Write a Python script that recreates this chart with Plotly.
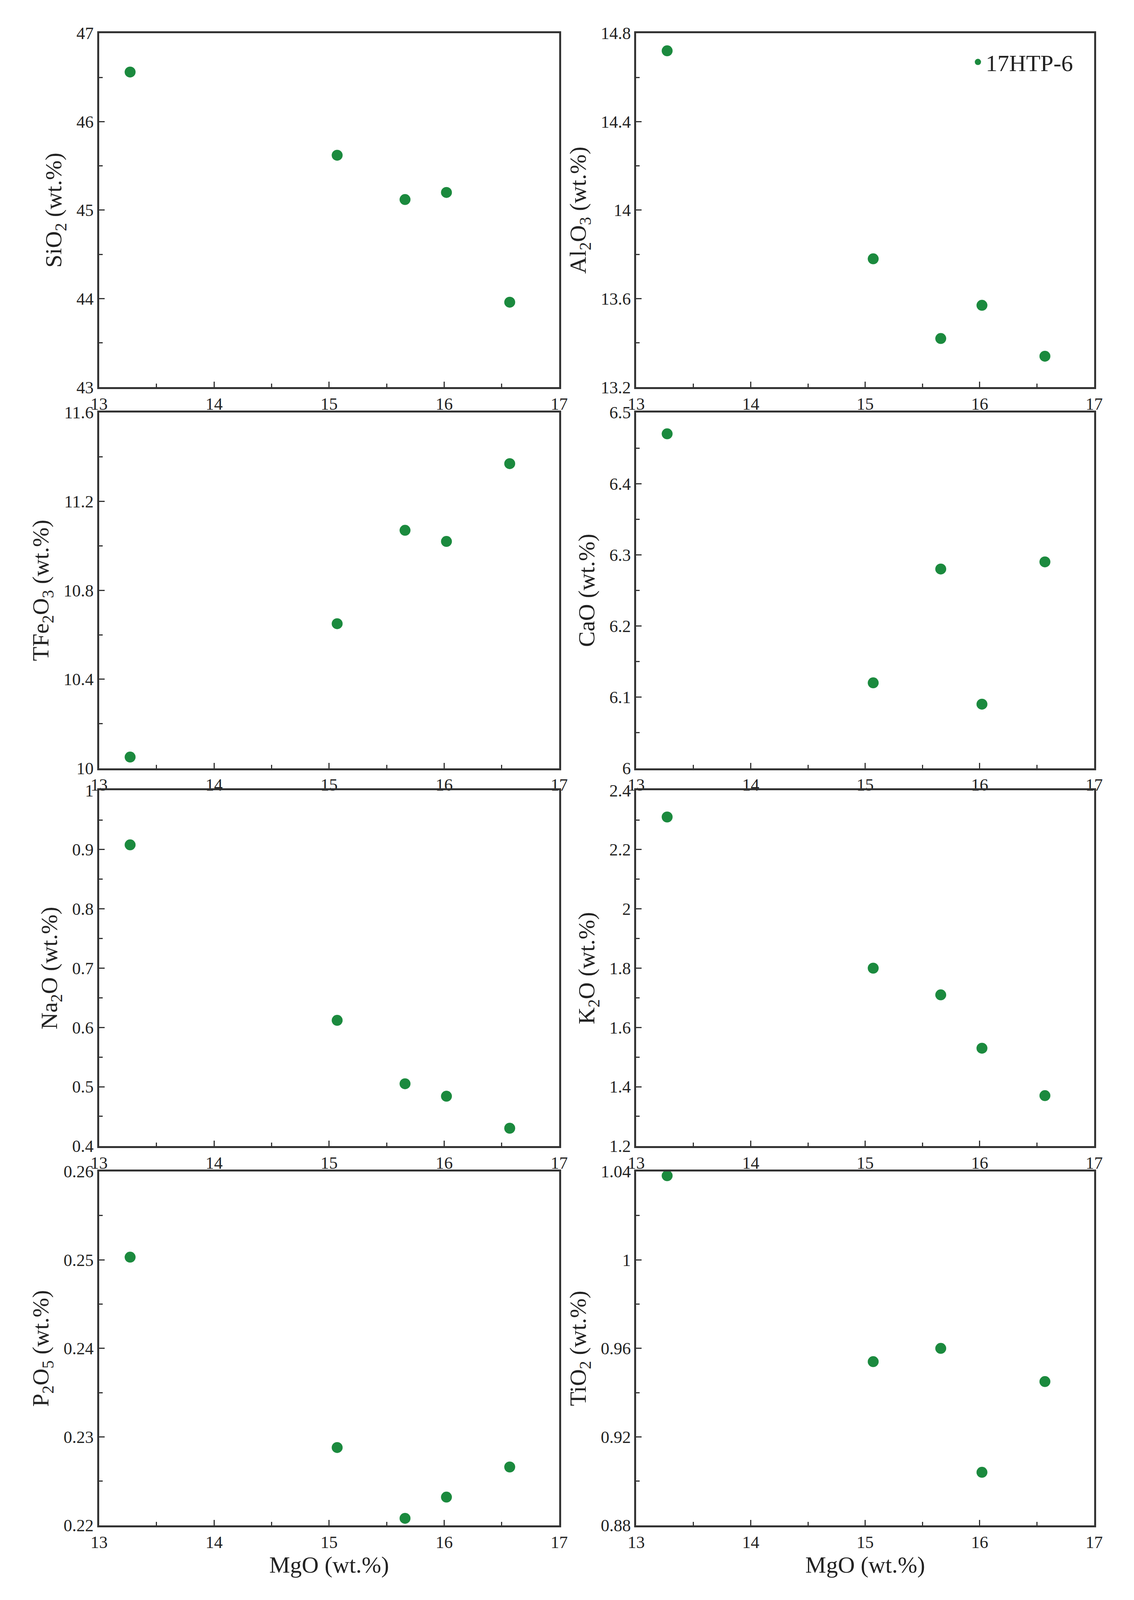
import plotly.graph_objects as go

mgo = [13.27, 15.07, 15.66, 16.02, 16.57]
sio2 = [46.56, 45.62, 45.12, 45.20, 43.96]
al2o3 = [14.72, 13.78, 13.42, 13.57, 13.34]
tfe2o3 = [10.05, 10.65, 11.07, 11.02, 11.37]
cao = [6.47, 6.12, 6.28, 6.09, 6.29]
na2o = [0.908, 0.612, 0.505, 0.484, 0.430]
k2o = [2.31, 1.80, 1.71, 1.53, 1.37]
p2o5 = [0.2503, 0.2288, 0.2208, 0.2232, 0.2266]
tio2 = [1.038, 0.954, 0.960, 0.904, 0.945]

panels = [
    ("SiO<sub>2</sub> (wt.%)", sio2, [43, 47], 1),
    ("Al<sub>2</sub>O<sub>3</sub> (wt.%)", al2o3, [13.2, 14.8], 0.4),
    ("TFe<sub>2</sub>O<sub>3</sub> (wt.%)", tfe2o3, [10, 11.6], 0.4),
    ("CaO (wt.%)", cao, [6, 6.5], 0.1),
    ("Na<sub>2</sub>O (wt.%)", na2o, [0.4, 1.0], 0.1),
    ("K<sub>2</sub>O (wt.%)", k2o, [1.2, 2.4], 0.2),
    ("P<sub>2</sub>O<sub>5</sub> (wt.%)", p2o5, [0.22, 0.26], 0.01),
    ("TiO<sub>2</sub> (wt.%)", tio2, [0.88, 1.04], 0.04),
]

xdoms = [[0.081, 0.493], [0.562, 0.972]]
ydoms = [[0.761, 0.985], [0.520, 0.745], [0.281, 0.506], [0.041, 0.265]]
green = "#1b8a3e"
font = "Liberation Serif"

fig = go.Figure()
for i, (title, vals, rng, dt) in enumerate(panels):
    r, c = divmod(i, 2)
    n = i + 1
    xa = "x" if n == 1 else f"x{n}"
    ya = "y" if n == 1 else f"y{n}"
    fig.add_trace(go.Scatter(x=mgo, y=vals, mode="markers", xaxis=xa, yaxis=ya,
                             marker=dict(color=green, size=28, line=dict(width=0)),
                             name="17HTP-6", showlegend=(i == 1)))
    axcommon = dict(showline=True, linecolor="#333", linewidth=5, mirror=True,
                    ticks="inside", ticklen=14, tickwidth=3, tickcolor="#333",
                    showgrid=False, zeroline=False,
                    tickfont=dict(family=font, size=44, color="#222"))
    fig.layout[f"xaxis{'' if n == 1 else n}"] = dict(
        axcommon, domain=xdoms[c], anchor=ya, range=[13, 17], dtick=1,
        minor=dict(dtick=0.5, ticks="inside", ticklen=9, tickwidth=3, tickcolor="#333"),
        title=dict(text="MgO (wt.%)", font=dict(family=font, size=60, color="#222"), standoff=10) if r == 3 else None)
    fig.layout[f"yaxis{'' if n == 1 else n}"] = dict(
        axcommon, domain=ydoms[r], anchor=xa, range=rng, dtick=dt,
        minor=dict(dtick=dt / 2, ticks="inside", ticklen=9, tickwidth=3, tickcolor="#333"),
        title=dict(text=title, font=dict(family=font, size=60, color="#222"), standoff=20))

fig.update_layout(autosize=True, plot_bgcolor="white", paper_bgcolor="white",
                  margin=dict(l=0, r=0, t=0, b=0),
                  legend=dict(x=0.955, y=0.978, xanchor="right", yanchor="top",
                              font=dict(family=font, size=60, color="#222"),
                              itemsizing="trace",
                              bgcolor="rgba(0,0,0,0)"))
fig.write_html("out.html", default_width="100vw", default_height="100vh",
               config={"responsive": True, "displayModeBar": False})
with open("out.html") as f:
    html = f.read()
html = html.replace("<head>", "<head><style>html,body{margin:0;padding:0;overflow:hidden;}</style>", 1)
with open("out.html", "w") as f:
    f.write(html)
